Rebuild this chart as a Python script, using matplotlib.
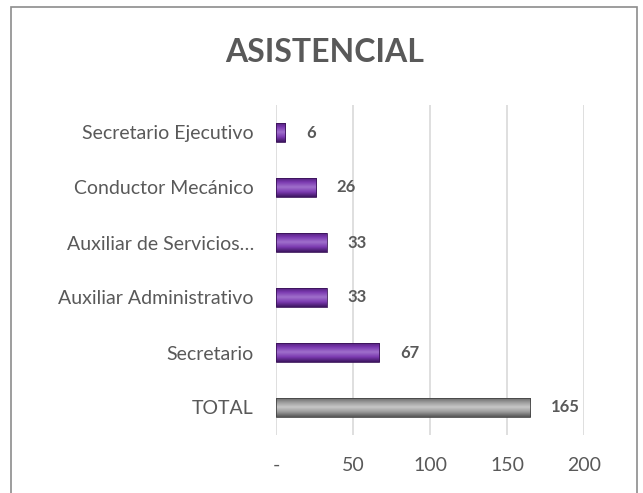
import matplotlib
matplotlib.use("Agg")
import matplotlib.pyplot as plt
import numpy as np
from matplotlib.patches import Rectangle
from matplotlib.colors import LinearSegmentedColormap

categories = ["TOTAL", "Secretario", "Auxiliar Administrativo", "Auxiliar de Servicios…",
              "Conductor Mecánico", "Secretario Ejecutivo"]
values = [165, 67, 33, 33, 26, 6]
xticks = [0, 50, 100, 150, 200]
xticklabels = ["-", "50", "100", "150", "200"]
title = "ASISTENCIAL"

plt.rcParams['font.family'] = ['Lato', 'DejaVu Sans']
txt = "#595959"

fig = plt.figure(figsize=(6.43, 4.93), dpi=100)
fig.patches.append(Rectangle((11/643, -0.02), 626/643, 1.02 - 7/493, transform=fig.transFigure,
                             fill=False, edgecolor="#8c8c8c", linewidth=1.2))
ax = fig.add_axes([276/643, 58/493, 308/643, 330/493])

purple_cmap = LinearSegmentedColormap.from_list("p", ["#3d1560", "#7b3ab0", "#a070cc", "#7b3ab0", "#4a1a72"])
gray_cmap = LinearSegmentedColormap.from_list("g", ["#555555", "#9a9a9a", "#c8c8c8", "#9a9a9a", "#606060"])

h = 0.36
y = np.arange(len(categories))
grad = np.linspace(0, 1, 64).reshape(-1, 1)
for i, (c, v) in enumerate(zip(categories, values)):
    cmap = gray_cmap if c == "TOTAL" else purple_cmap
    edge = "#444444" if c == "TOTAL" else "#3a1358"
    bars = ax.barh(i, v, height=h, color="none", edgecolor=edge, linewidth=0.6, zorder=3)
    patch = bars[0]
    im = ax.imshow(grad, cmap=cmap, aspect="auto", extent=[0, v, i - h/2, i + h/2],
                   origin="lower", zorder=2.9)
    im.set_clip_path(patch)
    ax.text(v + 13.5, i, f"{v}", va="center", ha="left", fontsize=12, fontweight="bold", color=txt)

ax.set_xlim(0, 200)
ax.set_ylim(-0.5, len(categories) - 0.5)
ax.set_xticks(xticks)
ax.set_xticklabels(xticklabels)
ax.set_yticks(y)
ax.set_yticklabels(categories)
ax.xaxis.grid(True, color="#d9d9d9", linewidth=1.2, zorder=0)
ax.set_axisbelow(True)
for s in ax.spines.values():
    s.set_visible(False)
ax.tick_params(axis="both", length=0, colors=txt, labelsize=14)
ax.tick_params(axis="y", pad=16)
ax.tick_params(axis="x", pad=16)
fig.text(325/643, 1 - 52/493, title, ha="center", va="center", fontsize=23, fontweight="bold", color=txt)

fig.savefig("out.png", dpi=100)
